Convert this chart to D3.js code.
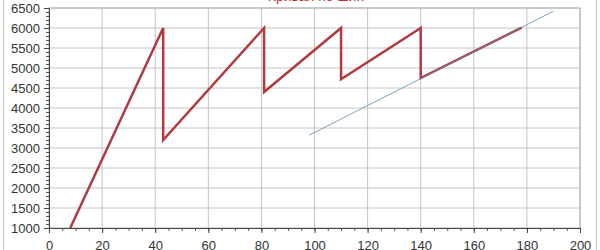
<!DOCTYPE html>
<html>
<head>
  <script src="https://d3js.org/d3.v7.min.js"></script>
  <meta charset='utf-8'>
  <style>
    body { margin: 0; background: #fff; }
    svg { display: block; font-family: "Liberation Sans", Arial, sans-serif; }
  </style>
</head>
<body>
  <div id="container"></div>
  <script>
  // data
  const curveX = [8, 43, 43, 81, 81, 110, 110, 140, 140, 178];
  const curveY = [1000, 6000, 3200, 6000, 4400, 6000, 4720, 6000, 4750, 6010];
  const trendX = [98, 190];
  const trendY = [3320, 6420];
  const xTicks = [0, 20, 40, 60, 80, 100, 120, 140, 160, 180, 200];
  const yTicks = [1000, 1500, 2000, 2500, 3000, 3500, 4000, 4500, 5000, 5500, 6000, 6500];
  const titleText = "Кривая по шин";

  const
  width = 600,
  height = 250,
  margin = { top: 8, bottom: 22, left: 49, right: 20 };

  const svg = d3.select("#container").append("svg")
    .attr("width", width)
    .attr("height", height)

  // outer frame
  svg.append("rect")
    .attr("x", 3.5).attr("y", -2)
    .attr("width", 593).attr("height", 260)
    .attr("fill", "none").attr("stroke", "#c8c8c8")

  const x = d3.scaleLinear().domain([0, 200]).range([margin.left, width - margin.right])
  const y = d3.scaleLinear().domain([1000, 6500]).range([height - margin.bottom, margin.top])

  // grid
  svg.append("g").selectAll("line")
    .data(xTicks.slice(1))
    .enter().append("line")
    .attr("x1", d => x(d)).attr("x2", d => x(d))
    .attr("y1", y(1000)).attr("y2", y(6500))
    .attr("stroke", "#c4c4c4")

  svg.append("g").selectAll("line")
    .data(yTicks.slice(1))
    .enter().append("line")
    .attr("x1", x(0)).attr("x2", x(200))
    .attr("y1", d => y(d)).attr("y2", d => y(d))
    .attr("stroke", "#c4c4c4")

  // plot border right/top
  svg.append("rect")
    .attr("x", x(0)).attr("y", y(6500))
    .attr("width", x(200) - x(0)).attr("height", y(1000) - y(6500))
    .attr("fill", "none").attr("stroke", "#b0b0b0")

  // minor ticks
  svg.append("g")
    .attr("transform", `translate(0,${y(1000)})`)
    .call(d3.axisBottom(x).ticks(40).tickSize(3).tickFormat(""))
    .call(g => g.select(".domain").remove())
    .selectAll("line").attr("stroke", "#555")

  svg.append("g")
    .attr("transform", `translate(${x(0)},0)`)
    .call(d3.axisLeft(y).ticks(55).tickSize(3).tickFormat(""))
    .call(g => g.select(".domain").remove())
    .selectAll("line").attr("stroke", "#555")

  // major axes
  const xAxis = svg.append("g")
    .attr("transform", `translate(0,${y(1000)})`)
    .call(d3.axisBottom(x).tickValues(xTicks).tickSize(5).tickPadding(8).tickSizeOuter(0))
  xAxis.select(".domain").attr("stroke", "#444")
  xAxis.selectAll("line").attr("stroke", "#444")
  xAxis.selectAll("text").attr("font-size", 13).attr("fill", "#333")
    .attr("font-family", "Liberation Sans, Arial, sans-serif")

  const yAxis = svg.append("g")
    .attr("transform", `translate(${x(0)},0)`)
    .call(d3.axisLeft(y).tickValues(yTicks).tickFormat(d3.format("d")).tickSize(5).tickPadding(4).tickSizeOuter(0))
  yAxis.select(".domain").attr("stroke", "#444")
  yAxis.selectAll("line").attr("stroke", "#444")
  yAxis.selectAll("text").attr("font-size", 13).attr("fill", "#333")
    .attr("font-family", "Liberation Sans, Arial, sans-serif")

  // title, cut off at the top
  svg.append("text")
    .attr("x", 316).attr("y", 1)
    .attr("text-anchor", "middle")
    .attr("font-size", 14)
    .attr("fill", "#c0302a")
    .text(titleText)

  const line = d3.line().x(d => x(d[0])).y(d => y(d[1]))

  svg.append("path")
    .datum(curveX.map((d, i) => [d, curveY[i]]))
    .attr("d", line)
    .attr("fill", "none")
    .attr("stroke", "#b03a3e")
    .attr("stroke-width", 2.5)
    .attr("stroke-linejoin", "miter")

  svg.append("path")
    .datum(trendX.map((d, i) => [d, trendY[i]]))
    .attr("d", line)
    .attr("fill", "none")
    .attr("stroke", "#5a8db8")
    .attr("stroke-opacity", 0.8)
    .attr("stroke-width", 1)
  </script>
</body>
</html>
